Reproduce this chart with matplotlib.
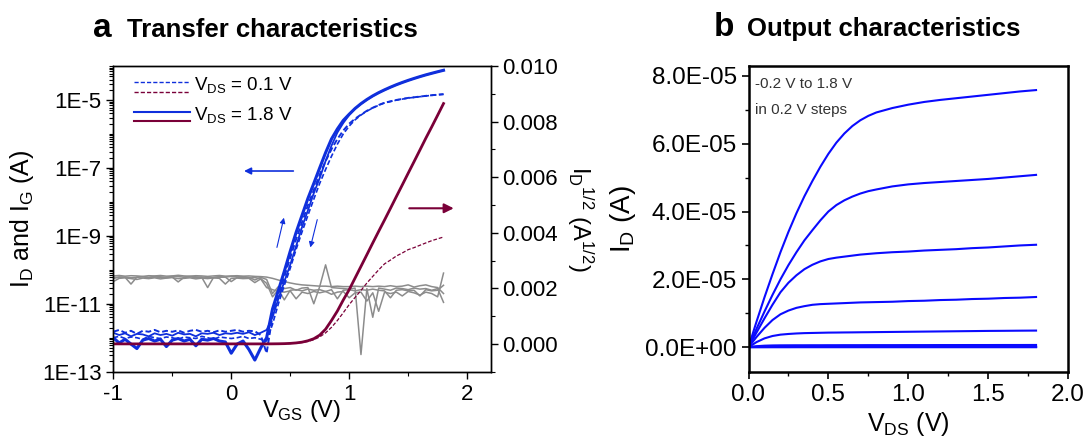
import numpy as np
import matplotlib
matplotlib.use('Agg')
import matplotlib.pyplot as plt
from matplotlib.lines import Line2D
from matplotlib.ticker import FixedLocator, LogLocator, MultipleLocator, FuncFormatter, NullFormatter

plt.rcParams['font.family'] = ['Liberation Sans', 'DejaVu Sans']
plt.rcParams['mathtext.fontset'] = 'custom'
plt.rcParams['mathtext.rm'] = 'Liberation Sans'
plt.rcParams['mathtext.it'] = 'Liberation Sans:italic'
plt.rcParams['mathtext.bf'] = 'Liberation Sans:bold'
plt.rcParams['axes.unicode_minus'] = False

# ---- panel a: transfer sweep (V_GS in V, currents in A) ----
vgs = [-1.00, -0.95, -0.90, -0.85, -0.80, -0.75, -0.70, -0.65, -0.60, -0.55,
       -0.50, -0.45, -0.40, -0.35, -0.30, -0.25, -0.20, -0.15, -0.10, -0.05,
       0.00, 0.05, 0.10, 0.15, 0.20, 0.25, 0.30, 0.35, 0.40, 0.45,
       0.50, 0.55, 0.60, 0.65, 0.70, 0.75, 0.80, 0.85, 0.90, 0.95,
       1.00, 1.05, 1.10, 1.15, 1.20, 1.25, 1.30, 1.35, 1.40, 1.45,
       1.50, 1.55, 1.60, 1.65, 1.70, 1.75, 1.80]

id18_fwd = [1.0e-12, 7.0e-13, 9.0e-13, 6.5e-13, 4.8e-13, 8.5e-13, 9.5e-13, 8.0e-13, 9.0e-13, 5.5e-13,
            8.5e-13, 9.5e-13, 8.0e-13, 9.0e-13, 5.8e-13, 9.0e-13, 8.5e-13, 9.5e-13, 8.0e-13, 7.5e-13,
            3.5e-13, 6.5e-13, 8.0e-13, 4.5e-13, 2.2e-13, 5.0e-13, 1.0e-12, 7.0e-12, 2.5e-11, 9.0e-11,
            3.5e-10, 1.26e-9, 4.0e-9, 1.26e-8, 3.5e-8, 1.0e-7, 2.8e-7, 7.1e-7, 1.4e-6, 2.5e-6,
            3.8e-6, 5.62e-6, 7.78e-6, 1.03e-5, 1.32e-5, 1.64e-5, 1.99e-5, 2.38e-5, 2.81e-5, 3.27e-5,
            3.77e-5, 4.30e-5, 4.87e-5, 5.48e-5, 6.10e-5, 6.77e-5, 7.48e-5]
id18_rev = [1.4e-12, 1.2e-12, 1.35e-12, 1.1e-12, 1.3e-12, 1.25e-12, 1.1e-12, 1.35e-12, 1.2e-12, 1.3e-12,
            1.15e-12, 1.4e-12, 1.25e-12, 1.3e-12, 1.1e-12, 1.35e-12, 1.3e-12, 1.4e-12, 1.2e-12, 1.35e-12,
            1.3e-12, 1.4e-12, 1.3e-12, 1.45e-12, 1.2e-12, 1.4e-12, 1.7e-12, 4.0e-12, 1.4e-11, 4.5e-11,
            1.4e-10, 5.0e-10, 1.8e-9, 5.6e-9, 1.8e-8, 5.0e-8, 1.6e-7, 4.5e-7, 1.1e-6, 2.1e-6,
            3.6e-6, 5.5e-6, 7.6e-6, 1.01e-5, 1.30e-5, 1.62e-5, 1.97e-5, 2.36e-5, 2.79e-5, 3.25e-5,
            3.75e-5, 4.28e-5, 4.85e-5, 5.46e-5, 6.08e-5, 6.75e-5, 7.46e-5]
id01_fwd = [1.5e-12, 1.7e-12, 1.4e-12, 1.6e-12, 1.3e-12, 1.6e-12, 1.5e-12, 1.7e-12, 1.45e-12, 1.6e-12,
            1.5e-12, 1.65e-12, 1.4e-12, 1.6e-12, 1.7e-12, 1.5e-12, 1.6e-12, 1.45e-12, 1.65e-12, 1.5e-12,
            1.6e-12, 1.7e-12, 1.5e-12, 1.6e-12, 1.55e-12, 1.2e-12, 3.5e-13, 4.5e-12, 1.78e-11, 6.3e-11,
            2.24e-10, 7.9e-10, 2.5e-9, 7.9e-9, 2.24e-8, 6.3e-8, 1.58e-7, 3.55e-7, 7.1e-7, 1.26e-6,
            2.0e-6, 2.8e-6, 3.7e-6, 4.8e-6, 5.9e-6, 7.1e-6, 8.3e-6, 9.1e-6, 1.0e-5, 1.07e-5,
            1.15e-5, 1.2e-5, 1.26e-5, 1.32e-5, 1.38e-5, 1.43e-5, 1.48e-5]
id01_rev = [1.0e-12, 1.1e-12, 9.5e-13, 1.05e-12, 1.0e-12, 9.0e-13, 1.1e-12, 1.0e-12, 9.5e-13, 1.05e-12,
            1.0e-12, 9.0e-13, 1.05e-12, 1.0e-12, 9.5e-13, 1.1e-12, 1.0e-12, 9.0e-13, 1.05e-12, 1.0e-12,
            9.5e-13, 1.0e-12, 1.1e-12, 9.5e-13, 1.0e-12, 9.0e-13, 8.0e-13, 2.5e-12, 1.0e-11, 3.5e-11,
            1.1e-10, 4.0e-10, 1.3e-9, 4.0e-9, 1.2e-8, 3.5e-8, 9.0e-8, 2.2e-7, 5.0e-7, 1.0e-6,
            1.7e-6, 2.6e-6, 3.6e-6, 4.7e-6, 5.8e-6, 7.0e-6, 8.2e-6, 9.0e-6, 9.9e-6, 1.06e-5,
            1.14e-5, 1.19e-5, 1.25e-5, 1.31e-5, 1.37e-5, 1.42e-5, 1.47e-5]

# gate leakage, four sweeps
ig_1 = [5.5e-11, 6.2e-11, 6.0e-11, 3.8e-11, 6.1e-11, 6.3e-11, 6.0e-11, 6.4e-11, 6.2e-11, 6.0e-11,
        6.5e-11, 6.3e-11, 6.1e-11, 6.4e-11, 6.2e-11, 6.0e-11, 3.0e-11, 6.0e-11, 6.3e-11, 6.1e-11,
        6.4e-11, 6.2e-11, 6.3e-11, 6.0e-11, 5.0e-11, 6.0e-11, 5.2e-11, 2.0e-11, 3.2e-11, 2.8e-11,
        3.0e-11, 2.5e-11, 2.9e-11, 3.0e-11, 1.0e-11, 3.2e-11, 1.4e-10, 3.0e-11, 2.9e-11, 2.8e-11,
        2.7e-11, 2.9e-11, 3.2e-13, 2.8e-11, 4.0e-12, 2.9e-11, 2.7e-11, 2.5e-11, 2.9e-11, 2.8e-11,
        2.6e-11, 2.9e-11, 2.7e-11, 2.8e-11, 2.5e-11, 2.8e-11, 1.1e-11]
ig_2 = [4.5e-11, 5.6e-11, 5.8e-11, 5.5e-11, 5.2e-11, 5.7e-11, 5.5e-11, 5.8e-11, 5.4e-11, 5.7e-11,
        5.9e-11, 5.5e-11, 5.6e-11, 5.8e-11, 5.4e-11, 5.7e-11, 5.5e-11, 5.8e-11, 5.6e-11, 3.8e-11,
        5.6e-11, 5.7e-11, 5.5e-11, 5.6e-11, 4.2e-11, 5.4e-11, 3.0e-11, 2.6e-11, 2.3e-11, 2.2e-11,
        2.4e-11, 1.4e-11, 2.2e-11, 2.0e-11, 2.3e-11, 2.1e-11, 2.3e-11, 1.9e-11, 2.2e-11, 2.3e-11,
        1.5e-11, 2.1e-11, 2.2e-11, 1.2e-11, 2.1e-11, 6.0e-12, 2.2e-11, 2.0e-11, 2.2e-11, 1.7e-11,
        2.3e-11, 2.1e-11, 1.8e-11, 2.2e-11, 2.0e-11, 1.6e-11, 8.0e-11]
ig_3 = [6.6e-11, 6.8e-11, 6.5e-11, 6.7e-11, 6.6e-11, 6.4e-11, 6.7e-11, 6.6e-11, 6.8e-11, 6.5e-11,
        6.6e-11, 6.9e-11, 6.6e-11, 6.5e-11, 6.7e-11, 6.6e-11, 6.4e-11, 6.6e-11, 6.8e-11, 6.5e-11,
        6.6e-11, 6.7e-11, 6.5e-11, 6.6e-11, 6.4e-11, 6.3e-11, 6.1e-11, 5.6e-11, 5.0e-11, 4.5e-11,
        4.1e-11, 3.8e-11, 3.6e-11, 3.5e-11, 3.4e-11, 3.3e-11, 3.3e-11, 3.2e-11, 3.3e-11, 3.2e-11,
        3.2e-11, 3.3e-11, 3.2e-11, 3.3e-11, 3.2e-11, 3.3e-11, 3.2e-11, 3.4e-11, 3.2e-11, 3.3e-11,
        3.6e-11, 3.1e-11, 3.4e-11, 3.6e-11, 3.2e-11, 3.0e-11, 2.0e-11]
ig_4 = [6.0e-11, 5.9e-11, 6.1e-11, 5.8e-11, 6.0e-11, 6.2e-11, 5.9e-11, 6.1e-11, 6.0e-11, 5.8e-11,
        6.1e-11, 4.4e-11, 6.0e-11, 6.2e-11, 5.9e-11, 6.1e-11, 6.0e-11, 5.8e-11, 6.0e-11, 6.1e-11,
        4.5e-11, 5.9e-11, 6.0e-11, 5.7e-11, 5.9e-11, 5.5e-11, 4.0e-11, 1.6e-11, 2.6e-11, 1.3e-11,
        2.5e-11, 2.6e-11, 2.4e-11, 2.7e-11, 2.5e-11, 2.6e-11, 2.3e-11, 2.6e-11, 1.4e-11, 2.5e-11,
        2.6e-11, 2.4e-11, 2.6e-11, 2.5e-11, 2.7e-11, 2.5e-11, 2.4e-11, 1.5e-11, 2.5e-11, 2.6e-11,
        2.4e-11, 2.5e-11, 1.7e-11, 2.6e-11, 2.4e-11, 2.5e-11, 3.5e-11]

# ---- panel b: output curves, V_GS = -0.2 ... 1.8 V ----
vds = [0.00, 0.05, 0.10, 0.15, 0.20, 0.25, 0.30, 0.35, 0.40, 0.45, 0.50, 0.55, 0.60, 0.65,
       0.70, 0.75, 0.80, 0.90, 1.00, 1.10, 1.20, 1.30, 1.40, 1.50, 1.60, 1.70, 1.80]
id_vg18 = [0.0, 0.75e-5, 1.47e-5, 2.15e-5, 2.80e-5, 3.40e-5, 3.95e-5, 4.45e-5, 4.90e-5, 5.32e-5,
           5.70e-5, 6.03e-5, 6.30e-5, 6.52e-5, 6.69e-5, 6.82e-5, 6.92e-5, 7.05e-5, 7.15e-5, 7.23e-5,
           7.29e-5, 7.34e-5, 7.39e-5, 7.44e-5, 7.49e-5, 7.54e-5, 7.58e-5]
id_vg16 = [0.0, 0.54e-5, 1.05e-5, 1.54e-5, 2.00e-5, 2.42e-5, 2.80e-5, 3.15e-5, 3.45e-5, 3.74e-5,
           4.00e-5, 4.19e-5, 4.33e-5, 4.44e-5, 4.53e-5, 4.60e-5, 4.65e-5, 4.74e-5, 4.80e-5, 4.84e-5,
           4.87e-5, 4.90e-5, 4.93e-5, 4.96e-5, 5.00e-5, 5.04e-5, 5.08e-5]
id_vg14 = [0.0, 0.43e-5, 0.85e-5, 1.25e-5, 1.62e-5, 1.90e-5, 2.12e-5, 2.30e-5, 2.43e-5, 2.53e-5,
           2.60e-5, 2.64e-5, 2.67e-5, 2.70e-5, 2.73e-5, 2.75e-5, 2.77e-5, 2.80e-5, 2.82e-5, 2.85e-5,
           2.87e-5, 2.89e-5, 2.92e-5, 2.94e-5, 2.97e-5, 3.00e-5, 3.02e-5]
id_vg12 = [0.0, 0.30e-5, 0.57e-5, 0.80e-5, 0.97e-5, 1.08e-5, 1.16e-5, 1.21e-5, 1.25e-5, 1.27e-5,
           1.28e-5, 1.29e-5, 1.30e-5, 1.31e-5, 1.32e-5, 1.325e-5, 1.33e-5, 1.34e-5, 1.36e-5, 1.37e-5,
           1.39e-5, 1.40e-5, 1.42e-5, 1.43e-5, 1.45e-5, 1.46e-5, 1.48e-5]
id_vg10 = [0.0, 0.15e-5, 0.26e-5, 0.33e-5, 0.37e-5, 0.39e-5, 0.405e-5, 0.415e-5, 0.42e-5, 0.425e-5,
           0.43e-5, 0.432e-5, 0.435e-5, 0.437e-5, 0.44e-5, 0.442e-5, 0.445e-5, 0.45e-5, 0.455e-5, 0.46e-5,
           0.465e-5, 0.47e-5, 0.475e-5, 0.48e-5, 0.483e-5, 0.487e-5, 0.49e-5]
id_vg08 = [0.0, 0.30e-6, 0.45e-6, 0.52e-6, 0.55e-6, 0.56e-6, 0.57e-6, 0.57e-6, 0.58e-6, 0.58e-6,
           0.59e-6, 0.59e-6, 0.60e-6, 0.60e-6, 0.60e-6, 0.61e-6, 0.61e-6, 0.61e-6, 0.62e-6, 0.62e-6,
           0.63e-6, 0.63e-6, 0.64e-6, 0.64e-6, 0.65e-6, 0.65e-6, 0.66e-6]
id_vg06 = [0.0, 0.02e-6, 0.03e-6, 0.04e-6, 0.04e-6, 0.04e-6, 0.05e-6, 0.05e-6, 0.05e-6, 0.05e-6,
           0.05e-6, 0.05e-6, 0.05e-6, 0.05e-6, 0.05e-6, 0.05e-6, 0.05e-6, 0.05e-6, 0.05e-6, 0.05e-6,
           0.05e-6, 0.05e-6, 0.05e-6, 0.05e-6, 0.05e-6, 0.05e-6, 0.05e-6]
id_off = [0.0, 0.0, 0.0, 0.0, 0.0, 0.0, 0.0, 0.0, 0.0, 0.0, 0.0, 0.0, 0.0, 0.0,
          0.0, 0.0, 0.0, 0.0, 0.0, 0.0, 0.0, 0.0, 0.0, 0.0, 0.0, 0.0, 0.0]
output_curves = [id_off, id_off, id_off, id_off, id_off, id_vg06, id_vg08,
                 id_vg10, id_vg12, id_vg14, id_vg16, id_vg18]

BLUE = '#0f2fdc'
BLUE_B = '#0a0aff'
MAROON = '#7a0038'
GRAY = '#8c8c8c'


class StackHandler:
    """legend entry with two short lines stacked over each other"""
    def legend_artist(self, legend, orig_handle, fontsize, handlebox):
        x0, y0 = handlebox.xdescent, handlebox.ydescent
        w, h = handlebox.width, handlebox.height
        out = None
        for ln, frac in zip(orig_handle, (0.6, -0.12)):
            out = Line2D([x0, x0 + w], [y0 + h * frac] * 2)
            out.update_from(ln)
            out.set_transform(handlebox.get_transform())
            handlebox.add_artist(out)
        return out


fig = plt.figure(figsize=(10.91, 4.37), dpi=100)

# ---------------- panel a ----------------
ax1 = fig.add_axes([113.3 / 1091, 1 - 371.7 / 437, 377.4 / 1091, 305.7 / 437])
ax2 = ax1.twinx()

for ig in (ig_1, ig_2, ig_3, ig_4):
    ax1.plot(vgs, ig, color=GRAY, lw=1.1, zorder=1)
ax1.plot(vgs, id18_rev, color=BLUE, lw=1.3, zorder=2)
ax1.plot(vgs, id01_rev, color=BLUE, lw=1.2, dashes=(3, 1.5), zorder=2)
ax1.plot(vgs, id01_fwd, color=BLUE, lw=1.4, dashes=(3, 1.5), zorder=3)
ax1.plot(vgs, id18_fwd, color=BLUE, lw=2.2, zorder=3)

ax2.plot(vgs, np.sqrt(id01_fwd), color=MAROON, lw=0.9, dashes=(3, 1.5))
ax2.plot(vgs, np.sqrt(id18_fwd), color=MAROON, lw=2.0)

ax1.set_yscale('log')
ax1.set_xlim(-1, 2.2)
ax1.set_ylim(1e-13, 1e-4)
ax2.set_ylim(-0.001, 0.010)

ax1.xaxis.set_major_locator(MultipleLocator(1))
ax1.xaxis.set_minor_locator(MultipleLocator(0.5))
ax1.xaxis.set_major_formatter(FuncFormatter(lambda v, p: '%d' % round(v)))
ax1.yaxis.set_major_locator(FixedLocator([1e-13, 1e-11, 1e-9, 1e-7, 1e-5]))
ax1.yaxis.set_minor_locator(LogLocator(base=10, subs=range(1, 10), numticks=60))
ax1.yaxis.set_minor_formatter(NullFormatter())
ax1.yaxis.set_major_formatter(FuncFormatter(lambda v, p: '1E%d' % round(np.log10(v))))
ax2.yaxis.set_major_locator(MultipleLocator(0.002))
ax2.yaxis.set_minor_locator(MultipleLocator(0.001))
ax2.yaxis.set_major_formatter(FuncFormatter(lambda v, p: '%.3f' % (0.0 if abs(v) < 1e-9 else v)))

for a in (ax1, ax2):
    for s in a.spines.values():
        s.set_linewidth(1.0)
    a.tick_params(which='major', direction='out', length=5, width=1, labelsize=16)
    a.tick_params(which='minor', direction='out', length=3, width=0.8)

ax1.set_xlabel(r'V$_{\mathrm{GS}}$ (V)', fontsize=17)
ax1.xaxis.set_label_coords(0.5, -0.085)
ax1.set_ylabel(r'I$_{\mathrm{D}}$ and I$_{\mathrm{G}}$ (A)', fontsize=18)
ax1.yaxis.set_label_coords(-0.205, 0.5)
ax2.set_ylabel(r'I$_{\mathrm{D}}$$^{\mathrm{1/2}}$ (A$^{\mathrm{1/2}}$)', fontsize=17,
               rotation=270, va='bottom')
ax2.yaxis.set_label_coords(1.197, 0.5)

# sweep direction / axis arrows
ax1.annotate('', xy=(0.085, 8.1e-8), xytext=(0.55, 8.1e-8),
             arrowprops=dict(arrowstyle='-|>', color=BLUE, lw=1.2, mutation_scale=10))
ax1.annotate('', xy=(0.452, 4.1e-9), xytext=(0.382, 3.8e-10),
             arrowprops=dict(arrowstyle='-|>', color=BLUE, lw=0.8, mutation_scale=8))
ax1.annotate('', xy=(0.665, 3.8e-10), xytext=(0.735, 3.6e-9),
             arrowprops=dict(arrowstyle='-|>', color=BLUE, lw=0.8, mutation_scale=8))
ax2.annotate('', xy=(1.91, 0.00488), xytext=(1.486, 0.00488),
             arrowprops=dict(arrowstyle='-|>', color=MAROON, lw=1.5, mutation_scale=14))

h01 = (Line2D([], [], color=BLUE, lw=1.0, dashes=(3, 1.5)), Line2D([], [], color=MAROON, lw=1.0, dashes=(3, 1.5)))
h18 = (Line2D([], [], color=BLUE, lw=1.5), Line2D([], [], color=MAROON, lw=1.5))
ax1.legend([h01, h18], [r'V$_{\mathrm{DS}}$ = 0.1 V', r'V$_{\mathrm{DS}}$ = 1.8 V'],
           handler_map={tuple: StackHandler()}, loc='upper left', bbox_to_anchor=(0.055, 0.97),
           frameon=False, fontsize=13.5, handlelength=3.0, handletextpad=0.2,
           borderpad=0, borderaxespad=0, labelspacing=0.5)

# ---------------- panel b ----------------
ax3 = fig.add_axes([748.5 / 1091, 1 - 372.3 / 437, 319.5 / 1091, 306.3 / 437])
for cur in output_curves:
    ax3.plot(vds, cur, color=BLUE_B, lw=1.5)
ax3.set_xlim(0, 2.0)
ax3.set_ylim(-7.4e-6, 8.29e-5)
ax3.xaxis.set_major_locator(MultipleLocator(0.5))
ax3.xaxis.set_minor_locator(MultipleLocator(0.25))
ax3.xaxis.set_major_formatter(FuncFormatter(lambda v, p: '%.1f' % v))
ax3.yaxis.set_major_locator(MultipleLocator(2e-5))
ax3.yaxis.set_minor_locator(MultipleLocator(1e-5))
ax3.yaxis.set_major_formatter(FuncFormatter(lambda v, p: '%.1E' % (0.0 if abs(v) < 1e-12 else v)))
for s in ax3.spines.values():
    s.set_linewidth(1.8)
ax3.tick_params(which='major', direction='out', length=5, width=1.2, labelsize=17.5)
ax3.tick_params(which='minor', direction='out', length=3, width=1.0)
ax3.set_xlabel(r'V$_{\mathrm{DS}}$ (V)', fontsize=18)
ax3.xaxis.set_label_coords(0.5, -0.123)
ax3.set_ylabel(r'I$_{\mathrm{D}}$ (A)', fontsize=20)
ax3.yaxis.set_label_coords(-0.346, 0.5)
ax3.text(0.02, 0.965, '-0.2 V to 1.8 V', transform=ax3.transAxes, fontsize=11, va='top', color='#333333')
ax3.text(0.02, 0.88, 'in 0.2 V steps', transform=ax3.transAxes, fontsize=11, va='top', color='#333333')

# panel titles
fig.text(93 / 1091, 1 - 37 / 437, 'a', fontsize=24, fontweight='bold', va='baseline')
fig.text(127 / 1091, 1 - 37 / 437, 'Transfer characteristics', fontsize=18.5, fontweight='bold', va='baseline')
fig.text(714 / 1091, 1 - 36 / 437, 'b', fontsize=24, fontweight='bold', va='baseline')
fig.text(747 / 1091, 1 - 36 / 437, 'Output characteristics', fontsize=18.5, fontweight='bold', va='baseline')

fig.savefig('out.png', dpi=100)
